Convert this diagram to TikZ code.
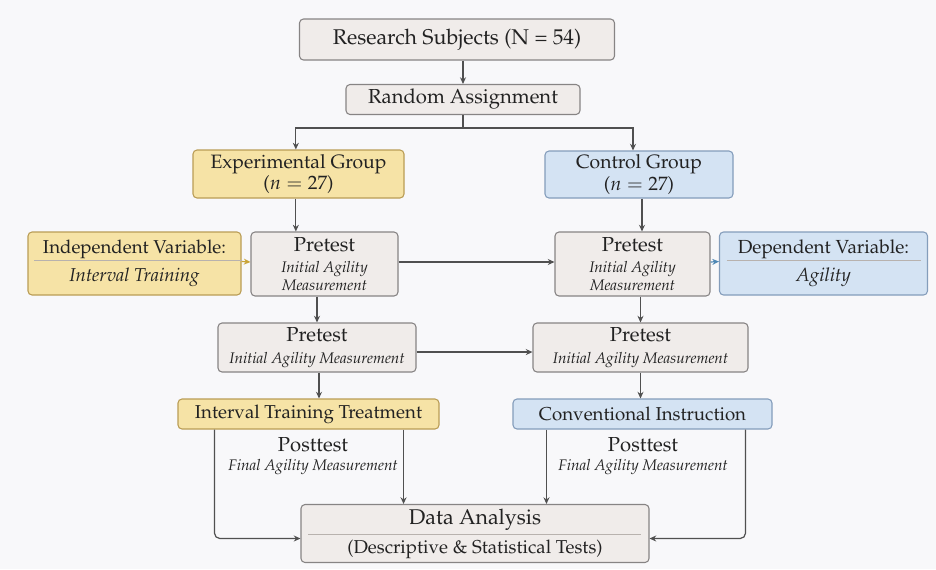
\documentclass[tikz,border=0pt]{standalone}
\usepackage[T1]{fontenc}
\usepackage{mathpazo}
\usetikzlibrary{arrows.meta}
\definecolor{bg}{HTML}{F8F8FA}
\definecolor{gfill}{HTML}{F0ECEA}
\definecolor{gline}{HTML}{878484}
\definecolor{yfill}{HTML}{F6E3A6}
\definecolor{yline}{HTML}{BA9D55}
\definecolor{bfill}{HTML}{D4E3F3}
\definecolor{bline}{HTML}{849DBB}
\definecolor{txt}{HTML}{222222}
\definecolor{arrc}{HTML}{505050}
\definecolor{garr}{HTML}{C9A43A}
\definecolor{barr}{HTML}{4F88B5}
\definecolor{sepc}{HTML}{B8B2AE}
\newcommand\fbig{\fontsize{16}{19}\selectfont}
\newcommand\fmain{\fontsize{15.2}{18}\selectfont}
\newcommand\fmid{\fontsize{14}{17}\selectfont}
\newcommand\fsub{\fontsize{11.5}{13.5}\selectfont\itshape}
\tikzset{
  gbox/.style={draw=gline, fill=gfill, rounded corners=3pt, line width=0.8pt, inner sep=0pt, align=center, text=txt},
  ybox/.style={gbox, draw=yline, fill=yfill},
  bbox/.style={gbox, draw=bline, fill=bfill},
  arr/.style={draw=arrc, line width=0.9pt, -{Stealth[length=5pt,width=4.5pt]}},
  sepline/.style={draw=sepc, line width=0.6pt},
  plain/.style={inner sep=0pt, align=center, text=txt}
}
\begin{document}
\begin{tikzpicture}[x=0.75pt,y=-0.75pt]
\fill[bg] (0,0) rectangle (936,569);
\useasboundingbox (0,0) rectangle (936,569);

% nodes
\node[gbox, minimum width=315*0.75pt, minimum height=41*0.75pt, font=\fbig] (rs) at (457,39.5) {Research Subjects (N = 54)};
\node[gbox, minimum width=234*0.75pt, minimum height=30*0.75pt, font=\fmain] (ra) at (463,99.5) {Random Assignment};
\node[ybox, minimum width=211*0.75pt, minimum height=48*0.75pt, font=\fontsize{14.5}{14.5}\selectfont] (exp) at (298.5,174) {Experimental Group\\[0.5pt]($n = 27$)};
\node[bbox, minimum width=188*0.75pt, minimum height=47*0.75pt, font=\fontsize{14.5}{14.5}\selectfont] (ctl) at (639,174.5) {Control Group\\[0.5pt]($n = 27$)};

\node[ybox, minimum width=213*0.75pt, minimum height=63*0.75pt, font=\fontsize{14}{21}\selectfont] (iv) at (134.5,263.5) {Independent Variable:\\{\itshape Interval Training}};
\node[gbox, minimum width=147*0.75pt, minimum height=64*0.75pt, font=\fsub] (p1l) at (324.5,264) {{\fmain\upshape Pretest}\\[2pt]Initial Agility\\Measurement};
\node[gbox, minimum width=155*0.75pt, minimum height=64*0.75pt, font=\fsub] (p1r) at (632.5,264) {{\fmain\upshape Pretest}\\[2pt]Initial Agility\\Measurement};
\node[bbox, minimum width=208*0.75pt, minimum height=63*0.75pt, font=\fontsize{14.2}{21}\selectfont] (dv) at (823.5,263.5) {Dependent Variable:\\{\itshape Agility}};

\node[gbox, minimum width=198*0.75pt, minimum height=49*0.75pt, font=\fsub] (p2l) at (317,347.5) {{\fmain\upshape Pretest}\\[2.5pt]Initial Agility Measurement};
\node[gbox, minimum width=215*0.75pt, minimum height=49*0.75pt, font=\fsub] (p2r) at (640.5,347.5) {{\fmain\upshape Pretest}\\[2.5pt]Initial Agility Measurement};

\node[ybox, minimum width=261*0.75pt, minimum height=30*0.75pt, font=\fmid] (itt) at (308.5,414) {Interval Training Treatment};
\node[bbox, minimum width=259*0.75pt, minimum height=30*0.75pt, font=\fmid] (ci) at (642.5,414) {Conventional Instruction};

\node[plain, font=\fsub] (ptl) at (313,456) {{\fmain\upshape Posttest}\\[0.75pt]Final Agility Measurement};
\node[plain, font=\fsub] (ptr) at (643,456) {{\fmain\upshape Posttest}\\[0.75pt]Final Agility Measurement};

\node[gbox, minimum width=348*0.75pt, minimum height=58*0.75pt, font=\fontsize{14}{21.75}\selectfont] (da) at (475,533.5) {{\fbig Data Analysis}\\(Descriptive \& Statistical Tests)};

% separators
\draw[sepline] ([xshift=5pt,yshift=2pt]iv.west) -- ([yshift=2pt]iv.east);
\draw[sepline] ([xshift=6pt,yshift=2pt]dv.west) -- ([xshift=-5pt,yshift=2pt]dv.east);
\draw[sepline] ([xshift=6pt,yshift=-0.5pt]da.west) -- ([xshift=-6.5pt,yshift=-0.5pt]da.east);

% connectors
\draw[arr] (ra.north |- rs.south) -- (ra.north);
\coordinate (split) at (ra.south |- 0,128);
\draw[draw=arrc, line width=0.9pt] (ra.south) -- (split);
\draw[arr] (split) -| ([xshift=-2pt]exp.north);
\draw[arr] (split) -| ([xshift=-4.5pt]ctl.north);

\draw[arr] ([xshift=-2pt]exp.south) -- ([xshift=-2pt]exp.south |- p1l.north);
\draw[arr] ([xshift=2.25pt]ctl.south) -- ([xshift=2.25pt]ctl.south |- p1r.north);

\draw[draw=garr, line width=0.9pt, -{Stealth[length=5pt,width=4.5pt]}] ([yshift=1.5pt]iv.east) -- ([yshift=1.5pt]p1l.west);
\draw[arr] ([yshift=1.5pt]p1l.east) -- ([yshift=1.5pt]p1r.west);
\draw[draw=barr, line width=0.9pt, -{Stealth[length=5pt,width=4.5pt]}] ([yshift=1.5pt]p1r.east) -- ([yshift=1.5pt]dv.west);

\draw[arr] (p2l.north |- p1l.south) -- (p2l.north);
\draw[arr] (p2r.north |- p1r.south) -- (p2r.north);
\draw[arr] ([yshift=-3.4pt]p2l.east) -- ([yshift=-3.4pt]p2r.west);

\draw[arr] ([xshift=1.5pt]p2l.south) -- ([xshift=1.5pt]p2l.south |- itt.north);
\draw[arr] (p2r.south) -- (p2r.south |- ci.north);

\draw[arr, rounded corners=4pt] ([xshift=37*0.75pt]itt.south west) |- ([yshift=-3.75pt]da.west);
\draw[arr] ([xshift=-36*0.75pt]itt.south east) -- ([xshift=-36*0.75pt]itt.south east |- da.north);
\draw[arr] ([xshift=34*0.75pt]ci.south west) -- ([xshift=34*0.75pt]ci.south west |- da.north);
\draw[arr, rounded corners=4pt] ([xshift=-27*0.75pt]ci.south east) |- ([yshift=-3.75pt]da.east);
\end{tikzpicture}
\end{document}
